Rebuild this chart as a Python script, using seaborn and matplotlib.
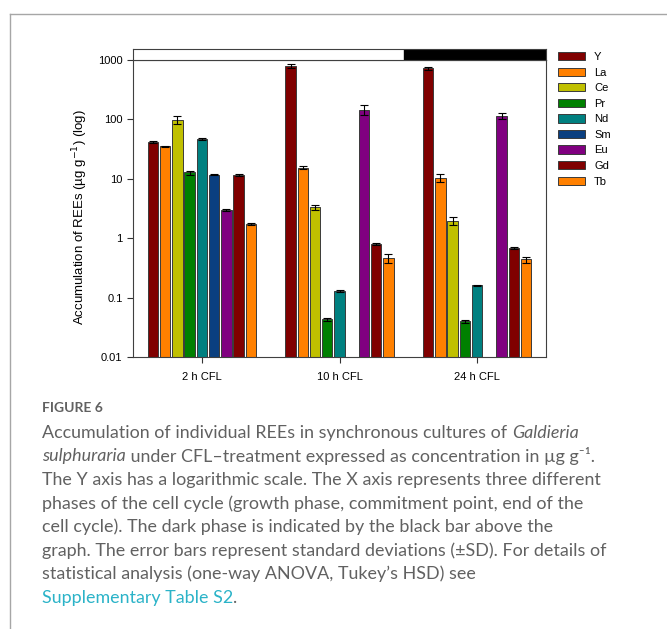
import seaborn as sns
import matplotlib.pyplot as plt
import pandas as pd
from matplotlib.lines import Line2D

times = ["2 h CFL", "10 h CFL", "24 h CFL"]
elements = ["Y", "La", "Ce", "Pr", "Nd", "Sm", "Eu", "Gd", "Tb"]
colors = ["#800000", "#FF8000", "#C0C000", "#008000", "#008080",
          "#0A3F80", "#800080", "#800000", "#FF8000"]

# mean concentration (ug/g) per element, None = not detected
vals_2h  = [41, 35, 99, 12.8, 47, 11.8, 2.95, 11.5, 1.72]
err_2h   = [1.5, 1.0, 16, 1.0, 2.0, 0.3, 0.1, 0.4, 0.06]
vals_10h = [800, 15.5, 3.35, 0.043, 0.13, None, 145, 0.80, 0.47]
err_10h  = [55, 1.0, 0.33, 0.002, 0.005, None, 27, 0.02, 0.08]
vals_24h = [730, 10.5, 1.98, 0.040, 0.16, None, 115, 0.68, 0.44]
err_24h  = [40, 1.5, 0.3, 0.002, 0.004, None, 14, 0.02, 0.05]

# dark phase starts here (category axis units)
dark_start = 1.47

rows = []
for t, vals, errs in zip(times, [vals_2h, vals_10h, vals_24h], [err_2h, err_10h, err_24h]):
    for el, v, e in zip(elements, vals, errs):
        if v is not None:
            rows.append((t, el, v, e))
df = pd.DataFrame(rows, columns=["time", "element", "value", "err"])

plt.rcParams["font.family"] = ["Liberation Sans", "DejaVu Sans"]
plt.rcParams["axes.linewidth"] = 0.8

fig = plt.figure(figsize=(6.67, 6.29), dpi=100)
ax = fig.add_axes([0.1994, 0.4324, 0.6192, 0.4722])

sns.barplot(data=df, x="time", y="value", hue="element", order=times,
            hue_order=elements, palette=dict(zip(elements, colors)), saturation=1,
            errorbar=None, gap=0.15, edgecolor="#3a3a3a", linewidth=0.7, ax=ax)

# error bars on top of each bar
for el, cont in zip(elements, ax.containers):
    sub = df[df["element"] == el].set_index("time").reindex(times).dropna()
    for p, e in zip(cont.patches, sub["err"]):
        ax.errorbar(p.get_x() + p.get_width() / 2, p.get_height(), yerr=e,
                    fmt="none", ecolor="black", elinewidth=0.8, capsize=3.2, capthick=0.8)

ax.set_yscale("log")
ax.set_ylim(0.01, 1000)
ax.set_xlim(-0.5, 2.5)
ax.set_yticks([0.01, 0.1, 1, 10, 100, 1000])
ax.set_yticklabels(["0.01", "0.1", "1", "10", "100", "1000"])
ax.minorticks_off()
ax.tick_params(labelsize=8, length=4, width=0.8, color="#333333")
ax.tick_params(axis="x", pad=7)
ax.set_xlabel("")
ax.set_ylabel("Accumulation of REEs (µg g$^{-1}$) (log)", fontsize=9.5)
ax.yaxis.set_label_coords(-0.103, 0.47)
for s in ax.spines.values():
    s.set_color("#404040")

sns.move_legend(ax, "upper left", bbox_to_anchor=(0.829, 0.926),
                bbox_transform=fig.transFigure, frameon=False, title=None,
                fontsize=8, handlelength=2.4, handleheight=0.75, labelspacing=0.5,
                borderpad=0, handletextpad=0.8)

# light/dark phase bar above the graph
tax = fig.add_axes([0.1994, 0.9046, 0.6192, 0.0175])
tax.set_xlim(-0.5, 2.5)
tax.axvspan(dark_start, 2.5, color="black")
tax.set_xticks([])
tax.set_yticks([])
for s in tax.spines.values():
    s.set_color("#404040")
    s.set_linewidth(0.8)

# page frame
fig.add_artist(Line2D([10 / 667, 10 / 667], [0, 1 - 14 / 629], color="#a6a6a6", lw=1))
fig.add_artist(Line2D([10 / 667, 1], [1 - 14 / 629, 1 - 14 / 629], color="#a6a6a6", lw=1))

# caption
cap_font = ["Lato", "DejaVu Sans"]
gray = "#616161"
fs = 12.9
x0 = 42 / 667
fig.text(x0, 1 - 408 / 629, "FIGURE 6", color=gray, fontsize=10,
         weight="bold", va="center", family=cap_font)

def chain(parts, y):
    prev = None
    for txt, style, col in parts:
        if prev is None:
            prev = fig.text(x0, y, txt, color=col, fontsize=fs, style=style,
                            va="center", family=cap_font)
        else:
            prev = ax.annotate(txt, xy=(1, 0.5), xycoords=prev, va="center", ha="left",
                               color=col, fontsize=fs, style=style, family=cap_font,
                               annotation_clip=False)

lines = [
    [("Accumulation of individual REEs in synchronous cultures of ", "normal", gray),
     ("Galdieria", "italic", gray)],
    [("sulphuraria", "italic", gray),
     (" under CFL–treatment expressed as concentration in µg g⁻¹.", "normal", gray)],
    [("The Y axis has a logarithmic scale. The X axis represents three different", "normal", gray)],
    [("phases of the cell cycle (growth phase, commitment point, end of the", "normal", gray)],
    [("cell cycle). The dark phase is indicated by the black bar above the", "normal", gray)],
    [("graph. The error bars represent standard deviations (±SD). For details of", "normal", gray)],
    [("statistical analysis (one-way ANOVA, Tukey’s HSD) see", "normal", gray)],
    [("Supplementary Table S2", "normal", "#2BB3C8"), (".", "normal", gray)],
]
line_y = [433, 456, 480, 504, 527, 551, 574, 598]
for parts, yy in zip(lines, line_y):
    chain(parts, 1 - yy / 629)

fig.savefig("out.png", dpi=100)
